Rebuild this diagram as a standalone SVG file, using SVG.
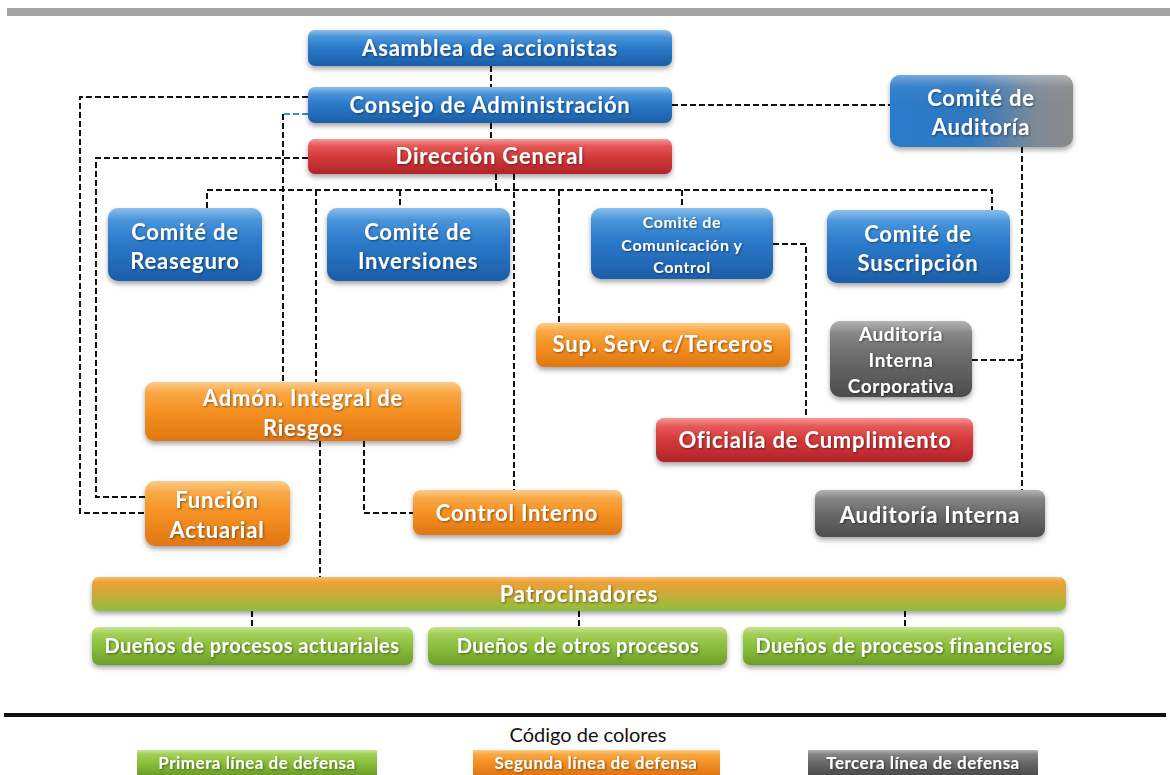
<svg xmlns="http://www.w3.org/2000/svg" width="1170" height="775" viewBox="0 0 1170 775">
<defs>
<linearGradient id="gBlue" x1="0" y1="0" x2="0" y2="1"><stop offset="0" stop-color="#4a9be0"/><stop offset="0.5" stop-color="#2a78c8"/><stop offset="1" stop-color="#1c5ea8"/></linearGradient>
<linearGradient id="gRed" x1="0" y1="0" x2="0" y2="1"><stop offset="0" stop-color="#ee5e5e"/><stop offset="0.5" stop-color="#d43a3a"/><stop offset="1" stop-color="#b02428"/></linearGradient>
<linearGradient id="gOrange" x1="0" y1="0" x2="0" y2="1"><stop offset="0" stop-color="#fbb04a"/><stop offset="0.5" stop-color="#f59124"/><stop offset="1" stop-color="#e07612"/></linearGradient>
<linearGradient id="gGray" x1="0" y1="0" x2="0" y2="1"><stop offset="0" stop-color="#8c8c8c"/><stop offset="0.5" stop-color="#6a6a6a"/><stop offset="1" stop-color="#4c4c4c"/></linearGradient>
<linearGradient id="gGreen" x1="0" y1="0" x2="0" y2="1"><stop offset="0" stop-color="#a8d45a"/><stop offset="0.5" stop-color="#8cc03c"/><stop offset="1" stop-color="#6c9e28"/></linearGradient>
<linearGradient id="gAud" x1="0" y1="0" x2="1" y2="0"><stop offset="0" stop-color="#2a7ccc"/><stop offset="0.45" stop-color="#2f78bf"/><stop offset="0.8" stop-color="#7d8a96"/><stop offset="1" stop-color="#8a8a8a"/></linearGradient>
<linearGradient id="gPat" x1="0" y1="0" x2="0" y2="1"><stop offset="0" stop-color="#f7961e"/><stop offset="0.45" stop-color="#d3a83a"/><stop offset="1" stop-color="#8cc03c"/></linearGradient>
<linearGradient id="gShine" x1="0" y1="0" x2="0" y2="1"><stop offset="0" stop-color="#fff" stop-opacity="0.35"/><stop offset="0.4" stop-color="#fff" stop-opacity="0.05"/><stop offset="1" stop-color="#fff" stop-opacity="0"/></linearGradient>
<filter id="sh" x="-10%" y="-20%" width="120%" height="150%"><feDropShadow dx="0" dy="3" stdDeviation="2.5" flood-color="#000" flood-opacity="0.35"/></filter>
<filter id="tsh" x="-5%" y="-20%" width="110%" height="150%"><feDropShadow dx="1" dy="1" stdDeviation="0.8" flood-color="#000" flood-opacity="0.45"/></filter>
</defs>
<style>
.t{font-family:Lato,"Open Sans","Liberation Sans",sans-serif;font-weight:bold;fill:#fff;text-anchor:middle;filter:url(#tsh)}
.f21{font-size:22px;letter-spacing:0.8px}
.f20{font-size:22px;letter-spacing:0.8px}
.f18{font-size:20px;letter-spacing:0.5px}
.f17{font-size:19px;letter-spacing:0.6px}
.f14{font-size:16px;letter-spacing:0.6px}
.f15{font-size:17px;letter-spacing:0.5px}
.c{fill:none;stroke:#111;stroke-width:2;stroke-dasharray:6 3}
.cb{fill:none;stroke:#3a8ad6;stroke-width:2;stroke-dasharray:6 3}
.box{filter:url(#sh)}
.shine{fill:url(#gShine)}
</style>
<rect width="1170" height="775" fill="#ffffff"/>
<rect x="7" y="8" width="1163" height="8" fill="#a2a2a2"/>

<g id="connectors">
<path class="c" d="M491 66V87"/>
<path class="c" d="M491 123V139"/>
<path class="c" d="M496 174V190"/>
<path class="c" d="M207 208V190H992V210"/>
<path class="c" d="M316 190V382"/>
<path class="c" d="M400 190V208"/>
<path class="c" d="M559 190V323"/>
<path class="c" d="M682 190V208"/>
<path class="c" d="M514 174V490"/>
<path class="c" d="M308 97H80V513H145"/>
<path class="c" d="M308 158H96V497H145"/>
<path class="cb" d="M308 114H283"/>
<path class="c" d="M283 114V382"/>
<path class="c" d="M672 105H890"/>
<path class="c" d="M1022 147V490"/>
<path class="c" d="M972 360H1022"/>
<path class="c" d="M773 244H806V418"/>
<path class="c" d="M320 441V577"/>
<path class="c" d="M364 441V513H413"/>
<path class="c" d="M252 611V627"/>
<path class="c" d="M579 611V627"/>
<path class="c" d="M905 611V627"/>
</g>

<g id="asamblea" class="box"><rect x="308" y="30" width="364" height="36" rx="7" fill="url(#gBlue)"/><rect x="308" y="30" width="364" height="18" rx="7" class="shine"/><text class="t f21" x="490" y="56">Asamblea de accionistas</text></g>
<g id="consejo" class="box"><rect x="308" y="87" width="364" height="36" rx="7" fill="url(#gBlue)"/><rect x="308" y="87" width="364" height="18" rx="7" class="shine"/><text class="t f21" x="490" y="113">Consejo de Administración</text></g>
<g id="direccion" class="box"><rect x="308" y="139" width="364" height="35" rx="7" fill="url(#gRed)"/><rect x="308" y="139" width="364" height="17" rx="7" class="shine"/><text class="t f21" x="490" y="164">Dirección General</text></g>
<g id="comite-auditoria" class="box"><rect x="890" y="75" width="183" height="72" rx="10" fill="url(#gAud)"/><rect x="890" y="75" width="183" height="30" rx="10" class="shine"/><text class="t f21" x="981" y="106">Comité de</text><text class="t f21" x="981" y="135">Auditoría</text></g>
<g id="reaseguro" class="box"><rect x="108" y="208" width="154" height="73" rx="10" fill="url(#gBlue)"/><rect x="108" y="208" width="154" height="30" rx="10" class="shine"/><text class="t f21" x="185" y="240">Comité de</text><text class="t f21" x="185" y="269">Reaseguro</text></g>
<g id="inversiones" class="box"><rect x="327" y="208" width="183" height="73" rx="10" fill="url(#gBlue)"/><rect x="327" y="208" width="183" height="30" rx="10" class="shine"/><text class="t f21" x="418" y="240">Comité de</text><text class="t f21" x="418" y="269">Inversiones</text></g>
<g id="comunicacion" class="box"><rect x="591" y="208" width="182" height="71" rx="10" fill="url(#gBlue)"/><rect x="591" y="208" width="182" height="30" rx="10" class="shine"/><text class="t f14" x="682" y="228">Comité de</text><text class="t f14" x="682" y="251">Comunicación  y</text><text class="t f14" x="682" y="273">Control</text></g>
<g id="suscripcion" class="box"><rect x="827" y="210" width="183" height="73" rx="10" fill="url(#gBlue)"/><rect x="827" y="210" width="183" height="30" rx="10" class="shine"/><text class="t f21" x="918" y="242">Comité de</text><text class="t f21" x="918" y="271">Suscripción</text></g>
<g id="sup-serv" class="box"><rect x="536" y="323" width="254" height="44" rx="8" fill="url(#gOrange)"/><rect x="536" y="323" width="254" height="20" rx="8" class="shine"/><text class="t f21" x="663" y="352">Sup. Serv. c/Terceros</text></g>
<g id="auditoria-corporativa" class="box"><rect x="830" y="321" width="142" height="76" rx="10" fill="url(#gGray)"/><rect x="830" y="321" width="142" height="30" rx="10" class="shine"/><text class="t f17" x="901" y="341">Auditoría</text><text class="t f17" x="901" y="367">Interna</text><text class="t f17" x="901" y="393">Corporativa</text></g>
<g id="admon-riesgos" class="box"><rect x="145" y="382" width="316" height="59" rx="9" fill="url(#gOrange)"/><rect x="145" y="382" width="316" height="25" rx="9" class="shine"/><text class="t f21" x="303" y="406">Admón. Integral de</text><text class="t f21" x="303" y="436">Riesgos</text></g>
<g id="oficialia" class="box"><rect x="656" y="418" width="317" height="44" rx="8" fill="url(#gRed)"/><rect x="656" y="418" width="317" height="20" rx="8" class="shine"/><text class="t f21" x="815" y="448">Oficialía de Cumplimiento</text></g>
<g id="funcion-actuarial" class="box"><rect x="145" y="481" width="145" height="65" rx="10" fill="url(#gOrange)"/><rect x="145" y="481" width="145" height="27" rx="10" class="shine"/><text class="t f21" x="217" y="508">Función</text><text class="t f21" x="217" y="538">Actuarial</text></g>
<g id="control-interno" class="box"><rect x="413" y="490" width="209" height="45" rx="8" fill="url(#gOrange)"/><rect x="413" y="490" width="209" height="20" rx="8" class="shine"/><text class="t f21" x="517" y="521">Control Interno</text></g>
<g id="auditoria-interna" class="box"><rect x="815" y="490" width="230" height="47" rx="8" fill="url(#gGray)"/><rect x="815" y="490" width="230" height="20" rx="8" class="shine"/><text class="t f21" x="930" y="523">Auditoría Interna</text></g>
<g id="patrocinadores" class="box"><rect x="92" y="577" width="974" height="34" rx="7" fill="url(#gPat)"/><rect x="92" y="577" width="974" height="15" rx="7" class="shine"/><text class="t f20" x="579" y="602">Patrocinadores</text></g>
<g id="duenos-actuariales" class="box"><rect x="92" y="627" width="321" height="38" rx="7" fill="url(#gGreen)"/><rect x="92" y="627" width="321" height="17" rx="7" class="shine"/><text class="t f18" x="252" y="653">Dueños de procesos actuariales</text></g>
<g id="duenos-otros" class="box"><rect x="428" y="627" width="299" height="38" rx="7" fill="url(#gGreen)"/><rect x="428" y="627" width="299" height="17" rx="7" class="shine"/><text class="t f18" x="578" y="653">Dueños de otros procesos</text></g>
<g id="duenos-financieros" class="box"><rect x="743" y="627" width="321" height="38" rx="7" fill="url(#gGreen)"/><rect x="743" y="627" width="321" height="17" rx="7" class="shine"/><text class="t f18" x="904" y="653">Dueños de procesos financieros</text></g>

<g id="legend">
<rect x="4" y="713" width="1162" height="4" fill="#111"/>
<text x="588" y="742" font-family="Lato,'Open Sans','Liberation Sans',sans-serif" font-size="20" fill="#111" text-anchor="middle">Código de colores</text>
<g id="leg-primera"><rect x="137" y="750" width="240" height="25" fill="url(#gGreen)"/><rect x="137" y="750" width="240" height="10" class="shine"/><text class="t f15" x="257" y="769">Primera línea de defensa</text></g>
<g id="leg-segunda"><rect x="473" y="750" width="247" height="25" fill="url(#gOrange)"/><rect x="473" y="750" width="247" height="10" class="shine"/><text class="t f15" x="596" y="769">Segunda línea de defensa</text></g>
<g id="leg-tercera"><rect x="808" y="750" width="230" height="25" fill="url(#gGray)"/><rect x="808" y="750" width="230" height="10" class="shine"/><text class="t f15" x="923" y="769">Tercera línea de defensa</text></g>
</g>
</svg>
